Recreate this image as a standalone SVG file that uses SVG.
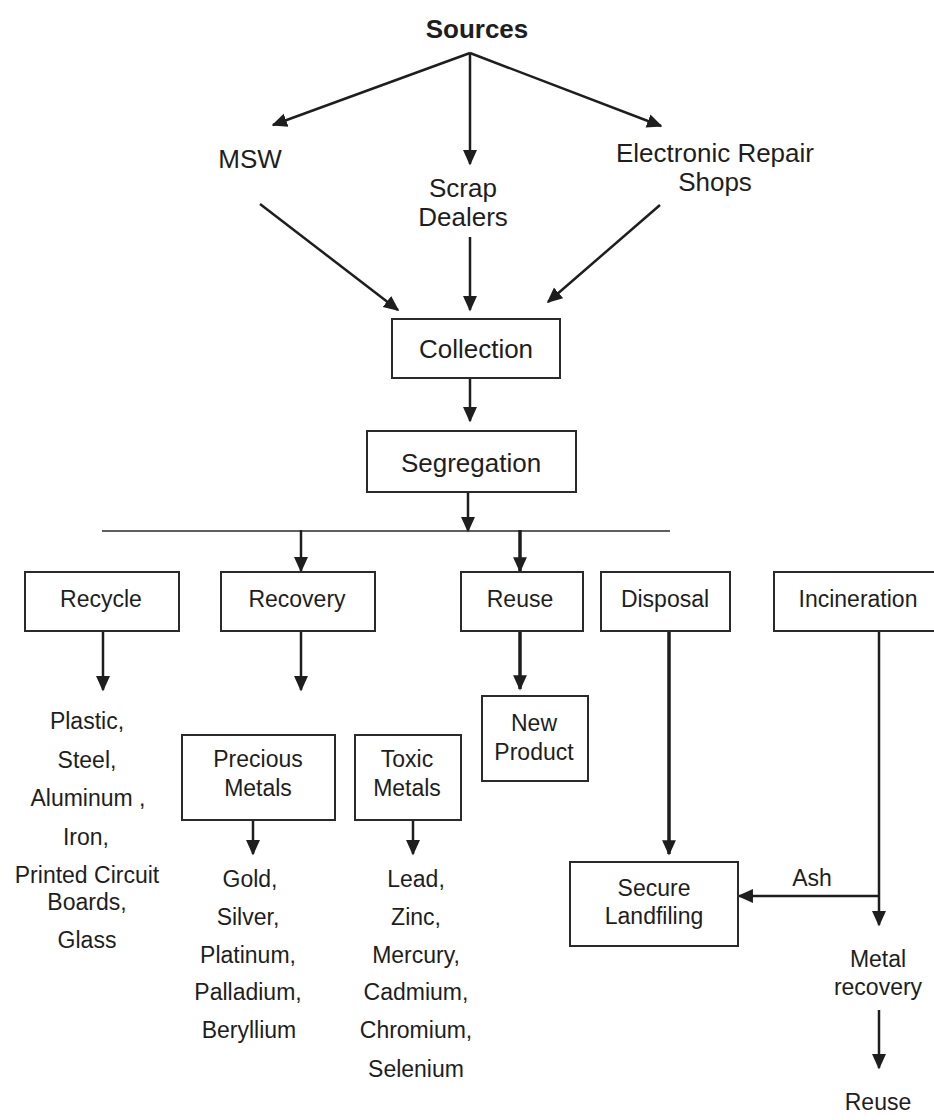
<svg xmlns="http://www.w3.org/2000/svg" width="934" height="1120" viewBox="0 0 934 1120">
<style>
text{font-family:"Liberation Sans",Arial,sans-serif;fill:#1e1e1e;text-anchor:middle}
.t22{font-size:26px}
.t19{font-size:23px}
.box{fill:#fff;stroke:#2a2a2a;stroke-width:2}
.ln{stroke:#1e1e1e;stroke-width:2.5;fill:none}
.thk{stroke:#1e1e1e;stroke-width:3.5;fill:none}
.thin{stroke:#2a2a2a;stroke-width:1.6;fill:none}
</style>
<defs>
<marker id="ah" viewBox="0 0 10 10" refX="9" refY="5" markerWidth="6.2" markerHeight="6.2" markerUnits="strokeWidth" orient="auto">
<path d="M0,0.5 L10,5 L0,9.5 z" fill="#1e1e1e"/>
</marker>
<marker id="ah2" viewBox="0 0 10 10" refX="9" refY="5" markerWidth="4.4" markerHeight="4.4" markerUnits="strokeWidth" orient="auto">
<path d="M0,0.5 L10,5 L0,9.5 z" fill="#1e1e1e"/>
</marker>
</defs>
<g id="connectors">
<line class="ln" x1="470" y1="53" x2="273" y2="125" marker-end="url(#ah)"/>
<line class="ln" x1="470" y1="53" x2="470" y2="164" marker-end="url(#ah)"/>
<line class="ln" x1="470" y1="53" x2="661" y2="126" marker-end="url(#ah)"/>
<line class="ln" x1="260" y1="204" x2="398" y2="310" marker-end="url(#ah)"/>
<line class="ln" x1="470" y1="237" x2="470" y2="310" marker-end="url(#ah)"/>
<line class="ln" x1="660" y1="205" x2="548" y2="302" marker-end="url(#ah)"/>
<line class="ln" x1="470" y1="378" x2="470" y2="421" marker-end="url(#ah)"/>
<line class="ln" x1="468" y1="492" x2="468" y2="531" marker-end="url(#ah)"/>
<line class="thin" x1="102" y1="531" x2="670" y2="531"/>
<line class="ln" x1="301" y1="530" x2="301" y2="571" marker-end="url(#ah)"/>
<line class="thk" x1="520" y1="530" x2="520" y2="571" marker-end="url(#ah2)"/>
<line class="ln" x1="103" y1="631" x2="103" y2="690" marker-end="url(#ah)"/>
<line class="ln" x1="301" y1="631" x2="301" y2="690" marker-end="url(#ah)"/>
<line class="thk" x1="520" y1="631" x2="520" y2="689" marker-end="url(#ah2)"/>
<line class="ln" x1="253" y1="821" x2="253" y2="854" marker-end="url(#ah)"/>
<line class="ln" x1="413" y1="821" x2="413" y2="854" marker-end="url(#ah)"/>
<line class="thk" x1="669" y1="631" x2="669" y2="854" marker-end="url(#ah2)"/>
<line class="ln" x1="879" y1="631" x2="879" y2="925" marker-end="url(#ah)"/>
<line class="ln" x1="880" y1="896" x2="739" y2="896" marker-end="url(#ah)"/>
<line class="ln" x1="879" y1="1010" x2="879" y2="1068" marker-end="url(#ah)"/>
</g>
<g id="sources"><text x="477" y="38" font-size="26" font-weight="bold">Sources</text></g>
<g id="msw"><text class="t22" x="250" y="168">MSW</text></g>
<g id="scrap"><text class="t22" x="463" y="197">Scrap</text><text class="t22" x="463" y="226">Dealers</text></g>
<g id="electronic"><text class="t22" x="715" y="162">Electronic Repair</text><text class="t22" x="715" y="191">Shops</text></g>
<g id="collection"><rect class="box" x="392" y="319" width="168" height="59"/><text class="t22" x="476" y="358">Collection</text></g>
<g id="segregation"><rect class="box" x="367" y="431" width="209" height="61"/><text class="t22" x="471" y="472">Segregation</text></g>
<g id="recycle"><rect class="box" x="25" y="572" width="154" height="59"/><text class="t19" x="101" y="607">Recycle</text></g>
<g id="recovery"><rect class="box" x="221" y="572" width="154" height="59"/><text class="t19" x="297" y="607">Recovery</text></g>
<g id="reuse"><rect class="box" x="461" y="572" width="122" height="59"/><text class="t19" x="520" y="607">Reuse</text></g>
<g id="disposal"><rect class="box" x="601" y="572" width="129" height="59"/><text class="t19" x="665" y="607">Disposal</text></g>
<g id="incineration"><rect class="box" x="774" y="572" width="164" height="59"/><text class="t19" x="858" y="607">Incineration</text></g>
<g id="newproduct"><rect class="box" x="482" y="696" width="106" height="85"/><text class="t19" x="534" y="731">New</text><text class="t19" x="534" y="760">Product</text></g>
<g id="precious"><rect class="box" x="182" y="735" width="153" height="85"/><text class="t19" x="258" y="767">Precious</text><text class="t19" x="258" y="796">Metals</text></g>
<g id="toxic"><rect class="box" x="355" y="735" width="106" height="85"/><text class="t19" x="407" y="767">Toxic</text><text class="t19" x="407" y="796">Metals</text></g>
<g id="recycle-items">
<text class="t19" x="87" y="729">Plastic,</text>
<text class="t19" x="87" y="768">Steel,</text>
<text class="t19" x="88" y="806">Aluminum ,</text>
<text class="t19" x="86" y="845">Iron,</text>
<text class="t19" x="87" y="883">Printed Circuit</text>
<text class="t19" x="87" y="910">Boards,</text>
<text class="t19" x="87" y="948">Glass</text>
</g>
<g id="precious-items">
<text class="t19" x="250" y="887">Gold,</text>
<text class="t19" x="248" y="925">Silver,</text>
<text class="t19" x="248" y="963">Platinum,</text>
<text class="t19" x="248" y="1000">Palladium,</text>
<text class="t19" x="249" y="1038">Beryllium</text>
</g>
<g id="toxic-items">
<text class="t19" x="416" y="887">Lead,</text>
<text class="t19" x="416" y="925">Zinc,</text>
<text class="t19" x="416" y="963">Mercury,</text>
<text class="t19" x="416" y="1000">Cadmium,</text>
<text class="t19" x="416" y="1038">Chromium,</text>
<text class="t19" x="416" y="1077">Selenium</text>
</g>
<g id="landfill"><rect class="box" x="570" y="862" width="168" height="84"/><text class="t19" x="654" y="896">Secure</text><text class="t19" x="654" y="924">Landfiling</text></g>
<g id="ash"><text class="t19" x="812" y="886">Ash</text></g>
<g id="metalrecovery"><text class="t19" x="878" y="967">Metal</text><text class="t19" x="878" y="995">recovery</text></g>
<g id="reuse-final"><text class="t19" x="878" y="1110">Reuse</text></g>
</svg>
